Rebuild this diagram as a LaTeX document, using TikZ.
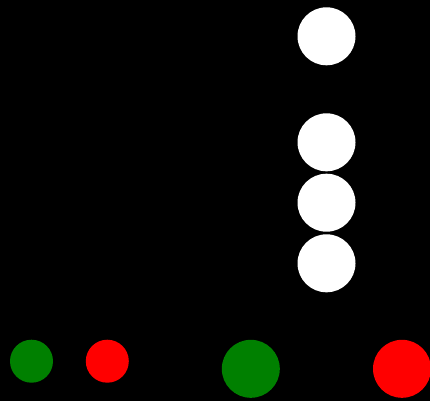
\documentclass[tikz,border=0pt]{standalone}
\begin{document}
\begin{tikzpicture}[x=1pt,y=-1pt,
  dot/.style={circle,inner sep=0pt,draw=none},
  whitedot/.style={dot,fill=white,minimum size=58pt},
  smalldot/.style={dot,minimum size=43pt},
  bigdot/.style={dot,minimum size=58pt}]
\fill[black] (0,0) rectangle (430,401);
\useasboundingbox (0,0) rectangle (430,401);
\node[whitedot] (w1) at (326.5,36.3) {};
\node[whitedot] (w2) at (326.5,142.3) {};
\node[whitedot] (w3) at (326.5,202.7) {};
\node[whitedot] (w4) at (326.5,263.3) {};
\node[smalldot,fill={rgb,255:red,0;green,128;blue,0}] (g1) at (31.5,361.2) {};
\node[smalldot,fill=red] (r1) at (107.3,361.2) {};
\node[bigdot,fill={rgb,255:red,0;green,128;blue,0}] (g2) at (250.8,368.8) {};
\node[bigdot,fill=red] (r2) at (402,368.8) {};
\end{tikzpicture}
\end{document}
